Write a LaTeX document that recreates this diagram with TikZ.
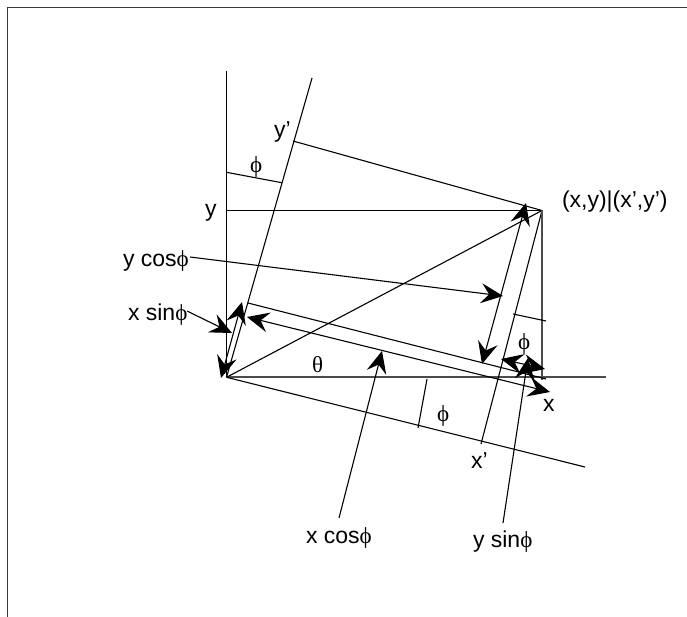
\documentclass[tikz,border=0pt]{standalone}
\usepackage{fontspec}
\setmainfont{Liberation Sans}
\newfontfamily\symfont{Liberation Serif}
\usetikzlibrary{arrows.meta}
\newcommand{\ph}{{\symfont ϕ}}
\newcommand{\thet}{{\symfont θ}}
\tikzset{
  x=1pt,y=-1pt,
  thin line/.style={draw=black,line width=1.1pt},
  axis line/.style={draw=black!70,line width=1.8pt},
  frame line/.style={draw=black!78,line width=1.6pt},
  barb/.tip={Stealth[length=22pt,width=20pt,inset=8pt]},
  arrow one/.style={thin line,-{barb}},
  arrow two/.style={thin line,{barb}-{barb}},
  lab/.style={inner sep=0pt,outer sep=0pt,anchor=base west,font=\fontsize{23}{27}\selectfont},
}
\begin{document}
\begin{tikzpicture}
\useasboundingbox (0,0) rectangle (687,617);
% frame
\coordinate (fa) at (7.5,617); \coordinate (fb) at (7.5,7.5); \coordinate (fc) at (687,7.5);
\draw[frame line] (fa) -- (fb) -- (fc);
% key points
\coordinate (O) at (226.5,377.3);
\coordinate (P) at (542,210.5);
\coordinate (ytop) at (226.5,71);
\coordinate (yptop) at (312,78);
\coordinate (xend) at (606,377.3);
\coordinate (xpend) at (585,467);
\coordinate (yfoot) at (226.5,210.5);
\coordinate (ypfoot) at (293,141);
\coordinate (xpfoot) at (481,444);
\coordinate (Pb) at (542,380);
% axes
\draw[thin line] (ytop) -- (O);
\draw[thin line] (yptop) -- (O);
\draw[axis line] (O) -- (xend);
\draw[thin line] (O) -- (xpend);
\draw[thin line] (yfoot) -- (P);
\draw[thin line] (ypfoot) -- (P);
\draw[thin line] (O) -- (P);
\draw[thin line] (P) -- (xpfoot);
\draw[axis line] (P) -- (Pb);
% phi ticks
\coordinate (t1a) at (226.5,172.3); \coordinate (t1b) at (281.7,182.7);
\coordinate (t2a) at (513,314); \coordinate (t2b) at (546,321);
\coordinate (t3a) at (418,428); \coordinate (t3b) at (427,379);
\draw[thin line] (t1a) -- (t1b);
\draw[thin line] (t2a) -- (t2b);
\draw[thin line] (t3a) -- (t3b);
% upper inner line
\coordinate (ua) at (248,303); \coordinate (ub) at (546,379);
\draw[thin line] (ua) -- (ub);
% labels
\node[lab] (lxy) at (562,208) {(x,y)|(x’,y’)};
\node[lab] (ly) at (205,217) {y};
\node[lab] (lyp) at (274,138) {y’};
\node[lab] (lph1) at (250,173) {\ph};
\node[lab] (lycos) at (123,266) {y cos\ph};
\node[lab] (lxsin) at (128,320) {x sin\ph};
\node[lab] (lth) at (312,372) {\thet};
\node[lab] (lph2) at (518,349) {\ph};
\node[lab] (lph3) at (437,421) {\ph};
\node[lab] (lx) at (543,411) {x};
\node[lab] (lxp) at (471,468) {x’};
\node[lab] (lxcos) at (306,543) {x cos\ph};
\node[lab] (lysin) at (473,547) {y sin\ph};
% dimension arrows
\coordinate (ycs) at (190,257); \coordinate (yct) at (503,296);
\coordinate (xss) at (187,311); \coordinate (xst) at (232,333);
\coordinate (xcs) at (339,518); \coordinate (xct) at (382,351);
\coordinate (yss) at (503,523); \coordinate (yst) at (528,358);
\coordinate (d1a) at (221,378); \coordinate (d1b) at (242,302);
\coordinate (d2a) at (247,317); \coordinate (d2b) at (550,392);
\coordinate (d3a) at (526,203); \coordinate (d3b) at (482,364);
\coordinate (d4a) at (501,359); \coordinate (d4b) at (545,369);
\draw[arrow one] (ycs) -- (yct);
\draw[arrow one] (xss) -- (xst);
\draw[arrow one] (xcs) -- (xct);
\draw[arrow one] (yss) -- (yst);
\draw[arrow two] (d1a) -- (d1b);
\draw[arrow two] (d2a) -- (d2b);
\draw[arrow two] (d3a) -- (d3b);
\draw[arrow two] (d4a) -- (d4b);
\end{tikzpicture}
\end{document}
